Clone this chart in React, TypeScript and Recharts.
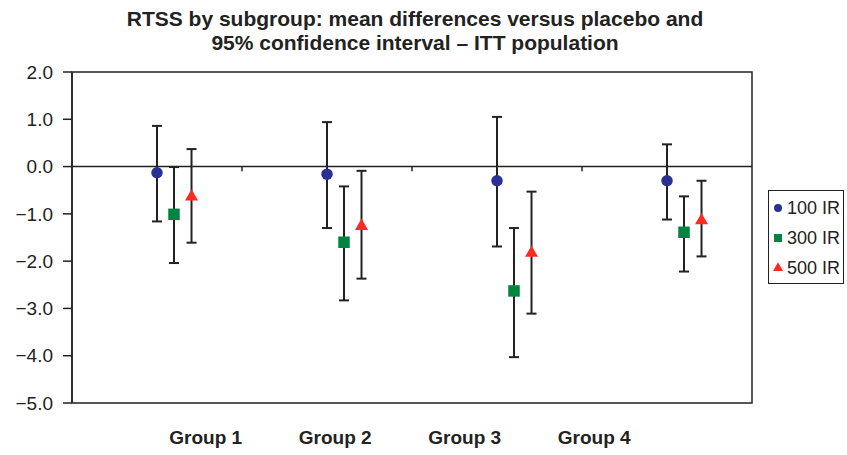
import React from "react";
import {
  ComposedChart,
  Scatter,
  ErrorBar,
  XAxis,
  YAxis,
  ReferenceLine,
  ReferenceArea,
  Legend,
} from "recharts";

const groups = ["Group 1", "Group 2", "Group 3", "Group 4"];
const seriesNames = ["100 IR", "300 IR", "500 IR"];
const colors = ["#2b3192", "#00843f", "#ff2a1f"];

// mean difference vs placebo, and 95% CI bounds
const mean100 = [-0.13, -0.16, -0.3, -0.3];
const low100 = [-1.16, -1.3, -1.69, -1.12];
const high100 = [0.86, 0.94, 1.05, 0.47];

const mean300 = [-1.01, -1.6, -2.63, -1.39];
const low300 = [-2.04, -2.83, -4.03, -2.22];
const high300 = [-0.01, -0.42, -1.3, -0.63];

const mean500 = [-0.64, -1.26, -1.83, -1.14];
const low500 = [-1.61, -2.37, -3.11, -1.9];
const high500 = [0.37, -0.09, -0.53, -0.3];

const yTicks = [-5, -4, -3, -2, -1, 0, 1, 2];

const dodge = [0, 0.1, 0.203];

const build = (mean: number[], low: number[], high: number[], k: number) =>
  groups.map((g, i) => ({
    group: g,
    x: i + 0.5 + dodge[k],
    y: mean[i],
    err: [mean[i] - low[i], high[i] - mean[i]],
  }));

const series = [
  build(mean100, low100, high100, 0),
  build(mean300, low300, high300, 1),
  build(mean500, low500, high500, 2),
];

const labelRows = groups.map((g, i) => ({ group: g, pos: i + 0.5 }));

const font = "'Liberation Sans', Arial, Helvetica, sans-serif";
const ink = "#222";

const Marker = ({ kind, cx, cy, s }: { kind: number; cx: number; cy: number; s: number }) => {
  if (kind === 0) return <circle cx={cx} cy={cy} r={s / 2} fill={colors[0]} />;
  if (kind === 1)
    return <rect x={cx - s / 2} y={cy - s / 2} width={s} height={s} fill={colors[1]} />;
  const h = s * 0.87;
  return (
    <polygon
      points={`${cx},${cy - (h * 2) / 3} ${cx - s / 2},${cy + h / 3} ${cx + s / 2},${cy + h / 3}`}
      fill={colors[2]}
    />
  );
};

const shapeFor = (kind: number) => (props: any) =>
  <Marker kind={kind} cx={props.cx} cy={props.cy} s={kind === 2 ? 13 : 11.5} />;

const renderLegend = (props: any) => {
  const payload = props.payload || [];
  return (
    <div
      style={{
        border: `1.5px solid ${ink}`,
        background: "#fff",
        width: 74,
        paddingTop: 2,
        fontFamily: font,
        fontSize: 18,
        color: ink,
      }}
    >
      {payload.map((p: any, i: number) => (
        <div key={p.value} style={{ display: "flex", alignItems: "center", height: 30 }}>
          <svg width={12} height={12} style={{ marginLeft: 3, marginRight: 3 }}>
            <Marker kind={i} cx={6} cy={6} s={i === 2 ? 10 : 8} />
          </svg>
          <span>{p.value}</span>
        </div>
      ))}
    </div>
  );
};

export default function App() {
  return (
    <div style={{ position: "absolute", left: 0, top: 0, width: 847, height: 455, background: "#fff" }}>
      <div
        style={{
          position: "absolute",
          left: 0,
          top: 7,
          width: 830,
          textAlign: "center",
          fontFamily: font,
          fontWeight: 700,
          fontSize: 21,
          lineHeight: "23.5px",
          color: ink,
        }}
      >
        RTSS by subgroup: mean differences versus placebo and
        <br />
        95% confidence interval – ITT population
      </div>
      <ComposedChart
        width={847}
        height={455}
        data={labelRows}
        margin={{ top: 72, right: 95, bottom: 0, left: 0 }}
        style={{ fontFamily: font }}
      >
        <XAxis xAxisId="main" type="number" dataKey="x" domain={[0, 4]} hide allowDataOverflow />
        <XAxis
          xAxisId="labels"
          type="number"
          dataKey="pos"
          domain={[0, 4]}
          ticks={labelRows.map((r) => r.pos)}
          tickFormatter={(v: number) => groups[Math.floor(v)]}
          padding={{ left: 69, right: 93 }}
          axisLine={false}
          tickLine={false}
          height={52}
          tickMargin={22}
          tick={{ fill: ink, fontSize: 19, fontWeight: 700 }}
          allowDataOverflow
        />
        <YAxis
          type="number"
          domain={[-5, 2]}
          ticks={yTicks}
          interval={0}
          width={72}
          tickSize={9}
          tickMargin={10}
          axisLine={{ stroke: ink, strokeWidth: 1.5 }}
          tickLine={{ stroke: ink, strokeWidth: 1.5 }}
          tick={{ fill: ink, fontSize: 19 }}
          tickFormatter={(v: number) => (v < 0 ? "\u2212" : "") + Math.abs(v).toFixed(1)}
          allowDataOverflow
        />
        <ReferenceArea
          xAxisId="main"
          x1={0}
          x2={4}
          y1={-5}
          y2={2}
          fill="none"
          fillOpacity={0}
          stroke={ink}
          strokeWidth={1.5}
        />
        <ReferenceLine xAxisId="main" y={0} stroke={ink} strokeWidth={1.5} />
        {groups.slice(1).map((g, i) => (
          <ReferenceLine
            key={g}
            xAxisId="main"
            segment={[
              { x: i + 1, y: 0 },
              { x: i + 1, y: -0.1 },
            ]}
            stroke={ink}
            strokeWidth={1.5}
          />
        ))}
        {series.map((data, k) => (
          <Scatter
            key={seriesNames[k]}
            name={seriesNames[k]}
            xAxisId="main"
            data={data}
            dataKey="y"
            fill={colors[k]}
            shape={shapeFor(k)}
            isAnimationActive={false}
          >
            <ErrorBar
              dataKey="err"
              direction="y"
              width={5}
              stroke={ink}
              strokeWidth={2}
              isAnimationActive={false}
            />
          </Scatter>
        ))}
        <Legend
          layout="vertical"
          align="center"
          verticalAlign="middle"
          content={renderLegend}
          wrapperStyle={{ left: 768, top: 190, width: 77 }}
        />
      </ComposedChart>
    </div>
  );
}
